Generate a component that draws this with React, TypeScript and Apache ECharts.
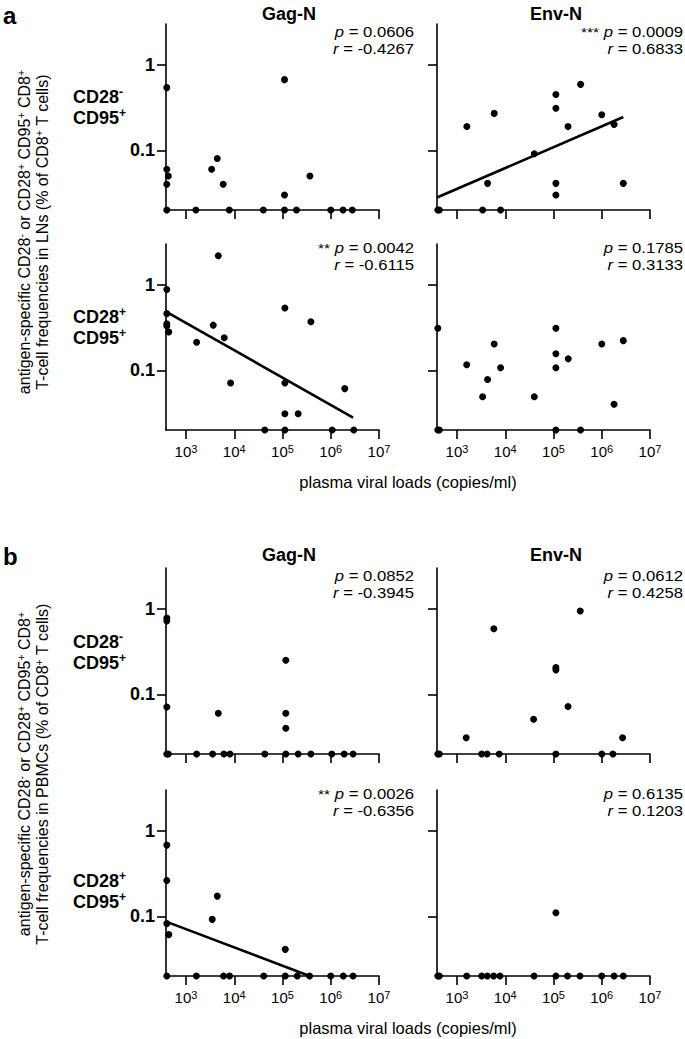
import React, { useEffect, useRef } from 'react';
import * as echarts from 'echarts';

const FONT = '"Liberation Sans", Arial, Helvetica, sans-serif';

// [plasma viral load (copies/ml), antigen-specific frequency (% of CD8+ T cells)]
// a: lymph nodes
const lnGagCD28neg: [number, number][] = [
  [400, 0.54], [400, 0.06], [430, 0.05], [400, 0.04], [400, 0.02], [1600, 0.02], [3400, 0.06],
  [4450, 0.08], [5900, 0.04], [7900, 0.02], [40000, 0.02], [110000, 0.67], [110000, 0.03],
  [110000, 0.02], [195000, 0.02], [370000, 0.05], [1.0e6, 0.02], [1.8e6, 0.02], [2.8e6, 0.02],
];
const lnEnvCD28neg: [number, number][] = [
  [400, 0.02], [430, 0.02], [1600, 0.19], [3400, 0.02], [4300, 0.041], [5900, 0.27], [8000, 0.02],
  [40000, 0.091], [112000, 0.45], [112000, 0.31], [112000, 0.041], [112000, 0.03], [200000, 0.19],
  [365000, 0.59], [1.0e6, 0.26], [1.8e6, 0.2], [2.8e6, 0.041],
];
const lnEnvCD28negFit: [number, number][] = [[385, 0.028], [2.8e6, 0.245]];
const lnGagCD28pos: [number, number][] = [
  [400, 0.88], [400, 0.46], [400, 0.35], [400, 0.33], [440, 0.28], [1660, 0.213], [3670, 0.337],
  [4670, 2.19], [6200, 0.24], [8400, 0.071], [43000, 0.02], [112000, 0.535], [112000, 0.071],
  [112000, 0.031], [112000, 0.02], [211000, 0.031], [387000, 0.37], [1.07e6, 0.02], [1.95e6, 0.061],
  [3.0e6, 0.02],
];
const lnGagCD28posFit: [number, number][] = [[400, 0.48], [2.9e6, 0.028]];
const lnEnvCD28pos: [number, number][] = [
  [400, 0.31], [400, 0.02], [430, 0.02], [1590, 0.116], [3400, 0.049], [4300, 0.078], [5900, 0.203],
  [8000, 0.107], [40000, 0.049], [112000, 0.31], [112000, 0.156], [112000, 0.107], [112000, 0.02],
  [202000, 0.136], [364000, 0.02], [1.0e6, 0.203], [1.8e6, 0.04], [2.8e6, 0.222],
];
// b: PBMCs
const pbGagCD28neg: [number, number][] = [
  [400, 0.78], [400, 0.72], [400, 0.071], [400, 0.02], [430, 0.02], [1660, 0.02], [3560, 0.02],
  [4670, 0.06], [6100, 0.02], [8150, 0.02], [43000, 0.02], [117000, 0.25], [117000, 0.06],
  [117000, 0.04], [117000, 0.02], [211000, 0.02], [387000, 0.02], [1.05e6, 0.02], [1.9e6, 0.02],
  [2.9e6, 0.02],
];
const pbEnvCD28neg: [number, number][] = [
  [400, 0.02], [430, 0.02], [1550, 0.031], [3250, 0.02], [4200, 0.02], [5800, 0.585], [7500, 0.02],
  [38700, 0.051], [112000, 0.206], [112000, 0.193], [112000, 0.02], [200000, 0.072], [358000, 0.94],
  [1.0e6, 0.02], [1.7e6, 0.02], [2.7e6, 0.031],
];
const pbGagCD28pos: [number, number][] = [
  [400, 0.68], [400, 0.262], [400, 0.082], [440, 0.061], [3500, 0.092], [4450, 0.172], [114000, 0.041],
  [400, 0.02], [1640, 0.02], [6000, 0.02], [8000, 0.02], [40700, 0.02], [114000, 0.02], [202000, 0.02],
  [364000, 0.02], [1.0e6, 0.02], [1.82e6, 0.02], [2.9e6, 0.02],
];
const pbGagCD28posFit: [number, number][] = [[400, 0.086], [364000, 0.02]];
const pbEnvCD28pos: [number, number][] = [
  [112000, 0.11], [400, 0.02], [430, 0.02], [1590, 0.02], [3250, 0.02], [4250, 0.02], [5750, 0.02],
  [7770, 0.02], [39500, 0.02], [112000, 0.02], [195000, 0.02], [353000, 0.02], [1.0e6, 0.02],
  [1.8e6, 0.02], [2.8e6, 0.02],
];

const pValues = ['0.0606', '0.0009', '0.0042', '0.1785', '0.0852', '0.0612', '0.0026', '0.6135'];
const rValues = ['-0.4267', '0.6833', '-0.6115', '0.3133', '-0.3945', '0.4258', '-0.6356', '0.1203'];
const stars = ['', '***', '**', '', '', '', '**', ''];

const xTickExponents = [3, 4, 5, 6, 7];
const yTickValues = [0.1, 1];
const xRange = [385, 1e7];
const yRange = [0.02, 3];

const columnTitles = ['Gag-N', 'Env-N'];
const sectionLetters = ['a', 'b'];
const xTitle = 'plasma viral loads (copies/ml)';

const toLog = (pts: [number, number][]) => pts.map(([x, y]) => [Math.log10(x), Math.log10(y)]);

export default function App() {
  const ref = useRef<HTMLDivElement>(null);

  useEffect(() => {
    if (!ref.current) return;
    const chart = echarts.init(ref.current, null, { renderer: 'svg' });

    const W = 213;
    const H = 186;
    const panels = [
      { left: 166, top: 24, pts: lnGagCD28neg, fit: null, yl: true, xl: false, row: 0 },
      { left: 437, top: 24, pts: lnEnvCD28neg, fit: lnEnvCD28negFit, yl: false, xl: false, row: 0 },
      { left: 166, top: 244, pts: lnGagCD28pos, fit: lnGagCD28posFit, yl: true, xl: true, row: 1 },
      { left: 437, top: 244, pts: lnEnvCD28pos, fit: null, yl: false, xl: true, row: 1 },
      { left: 166, top: 568, pts: pbGagCD28neg, fit: null, yl: true, xl: false, row: 0 },
      { left: 437, top: 568, pts: pbEnvCD28neg, fit: null, yl: false, xl: false, row: 0 },
      { left: 166, top: 790, pts: pbGagCD28pos, fit: pbGagCD28posFit, yl: true, xl: true, row: 1 },
      { left: 437, top: 790, pts: pbEnvCD28pos, fit: null, yl: false, xl: true, row: 1 },
    ];

    const axisLine = { show: true, onZero: false, lineStyle: { color: '#000', width: 1.6 } };
    const grid: any[] = [];
    const xAxis: any[] = [];
    const yAxis: any[] = [];
    const series: any[] = [];
    const yTicksLog = yTickValues.map((v) => Math.log10(v));

    panels.forEach((p, i) => {
      grid.push({ left: p.left, top: p.top, width: W, height: H });
      xAxis.push({
        type: 'value',
        gridIndex: i,
        min: Math.log10(xRange[0]),
        max: Math.log10(xRange[1]),
        axisLine,
        splitLine: { show: false },
        axisTick: { show: true, length: 9, customValues: xTickExponents, lineStyle: { color: '#000', width: 1.6 } },
        axisLabel: {
          show: p.xl,
          customValues: xTickExponents,
          margin: 13,
          formatter: (v: number) => `{b|10}{s|${Math.round(v)}}`,
          rich: {
            b: { fontSize: 15, fontFamily: FONT, color: '#000', lineHeight: 16 },
            s: { fontSize: 11, fontFamily: FONT, color: '#000', lineHeight: 11, verticalAlign: 'top' },
          },
        },
      });
      yAxis.push({
        type: 'value',
        gridIndex: i,
        min: Math.log10(yRange[0]),
        max: Math.log10(yRange[1]),
        axisLine,
        splitLine: { show: false },
        axisTick: { show: true, length: 9, customValues: yTicksLog, lineStyle: { color: '#000', width: 1.6 } },
        axisLabel: {
          show: p.yl,
          customValues: yTicksLog,
          margin: 11,
          fontSize: 18,
          fontWeight: 'bold',
          fontFamily: FONT,
          color: '#000',
          formatter: (v: number) => String(Number(Math.pow(10, v).toPrecision(2))),
        },
      });
      if (p.fit) {
        series.push({
          type: 'line',
          xAxisIndex: i,
          yAxisIndex: i,
          data: toLog(p.fit),
          showSymbol: false,
          symbol: 'none',
          lineStyle: { color: '#000', width: 2.6, opacity: 1 },
          z: 3,
          silent: true,
        });
      }
      series.push({
        type: 'scatter',
        xAxisIndex: i,
        yAxisIndex: i,
        data: toLog(p.pts),
        symbol: 'circle',
        symbolSize: 7,
        clip: false,
        itemStyle: { color: '#000', opacity: 1 },
        z: 4,
      });
    });

    const graphic: any[] = [];
    const txt = (x: number, y: number, style: any, extra: any = {}) =>
      graphic.push({ type: 'text', x, y, ...extra, style: { fill: '#000', fontFamily: FONT, ...style } });

    // section letters and column titles
    [15, 556].forEach((y, s) => {
      txt(3, y, { text: sectionLetters[s], fontSize: 24, fontWeight: 'bold', align: 'left', verticalAlign: 'middle' });
      txt(289, y - 1, { text: columnTitles[0], fontSize: 18, fontWeight: 'bold', align: 'center', verticalAlign: 'middle' });
      txt(556, y - 1, { text: columnTitles[1], fontSize: 18, fontWeight: 'bold', align: 'center', verticalAlign: 'middle' });
    });

    // row labels
    const rowRich = {
      b: { fontSize: 18, fontWeight: 'bold', fontFamily: FONT, lineHeight: 21 },
      s: { fontSize: 12, fontWeight: 'bold', fontFamily: FONT, lineHeight: 12, verticalAlign: 'top' },
    };
    const rowLabels = [
      { y: 107, text: '{b|CD28}{s|-}\n{b|CD95}{s|+}' },
      { y: 327, text: '{b|CD28}{s|+}\n{b|CD95}{s|+}' },
      { y: 652, text: '{b|CD28}{s|-}\n{b|CD95}{s|+}' },
      { y: 891, text: '{b|CD28}{s|+}\n{b|CD95}{s|+}' },
    ];
    rowLabels.forEach((r) =>
      txt(73, r.y, { text: r.text, rich: rowRich, align: 'left', verticalAlign: 'middle' })
    );

    // statistics
    panels.forEach((p, i) => {
      const xr = p.left === 166 ? 414 : 683;
      const py = p.row === 0 ? p.top + 8 : p.top + 4;
      const rich = {
        it: { fontStyle: 'italic', fontSize: 14.5, fontFamily: FONT, lineHeight: 14 },
        n: { fontSize: 14.5, fontFamily: FONT, lineHeight: 14 },
        st: { fontSize: 13.5, fontFamily: FONT, lineHeight: 14 },
      };
      const pText = (stars[i] ? `{st|${stars[i]}}{n| }` : '') + `{it|p}{n| = ${pValues[i]}}`;
      txt(xr, py, { text: pText, rich, align: 'right', verticalAlign: 'middle' }, { scaleX: 1.15 });
      txt(xr, py + 16.5, { text: `{it|r}{n| = ${rValues[i]}}`, rich, align: 'right', verticalAlign: 'middle' }, { scaleX: 1.15 });
    });

    // y axis titles
    const yRich = {
      n: { fontSize: 16, fontFamily: FONT, lineHeight: 18 },
      s: { fontSize: 10.5, fontFamily: FONT, lineHeight: 10, verticalAlign: 'top' },
    };
    const yLine1 = '{n|antigen-specific CD28}{s|-}{n| or CD28}{s|+}{n| CD95}{s|+}{n| CD8}{s|+}';
    const yLine2 = (t: string) => `{n|T-cell frequencies in ${t} (% of CD8}{s|+}{n| T cells)}`;
    [
      { cy: 232, t: 'LNs' },
      { cy: 774, t: 'PBMCs' },
    ].forEach((s) => {
      txt(24, s.cy, { text: yLine1, rich: yRich, align: 'center', verticalAlign: 'middle' }, { rotation: Math.PI / 2 });
      txt(42, s.cy, { text: yLine2(s.t), rich: yRich, align: 'center', verticalAlign: 'middle' }, { rotation: Math.PI / 2 });
    });

    // x axis titles
    [482, 1028].forEach((y) =>
      txt(408, y, { text: xTitle, fontSize: 16.5, align: 'center', verticalAlign: 'middle' })
    );

    chart.setOption({
      animation: false,
      backgroundColor: '#fff',
      textStyle: { fontFamily: FONT },
      grid,
      xAxis,
      yAxis,
      series,
      graphic,
    });

    return () => chart.dispose();
  }, []);

  return (
    <div
      ref={ref}
      style={{ position: 'absolute', left: 0, top: 0, width: 685, height: 1039, background: '#fff' }}
    />
  );
}
